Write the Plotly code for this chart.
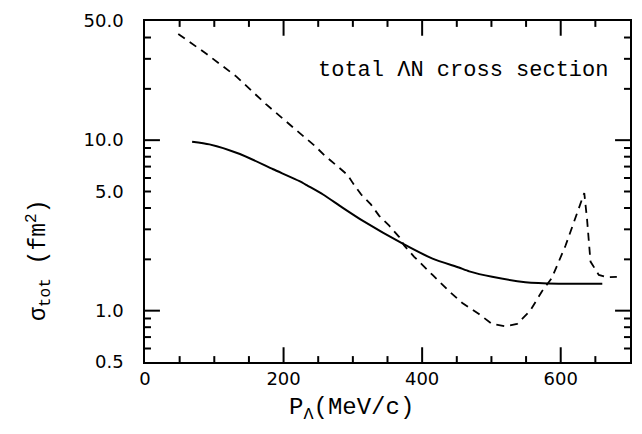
import plotly.graph_objects as go
import math

# Solid curve
solid_x = [68, 93, 137, 185, 223, 235, 257, 285, 314, 372, 415, 453, 468, 501, 549, 597, 630, 660]
solid_y = [9.8, 9.45, 8.3, 6.75, 5.75, 5.4, 4.8, 4.02, 3.37, 2.47, 2.02, 1.79, 1.70, 1.58, 1.47, 1.44, 1.44, 1.44]

# Dashed curve
dash_x = [48, 89, 132, 175, 228, 245, 259, 276, 292.5, 300, 312, 326, 338, 352.5, 367, 374, 388.5, 415, 439, 458,
          482, 501, 520, 537, 556, 573, 587, 607, 621, 634, 638, 643, 655, 667, 681]
dash_y = [42, 32, 23.6, 16.2, 10.6, 9.27, 8.15, 7.14, 6.25, 5.6, 4.8, 4.2, 3.6, 3.15, 2.7, 2.41, 2.07, 1.62, 1.30, 1.11,
          0.955, 0.836, 0.81, 0.836, 1.0, 1.30, 1.55, 2.41, 3.44, 4.9, 3.44, 1.94, 1.62, 1.57, 1.58]

x_range = [0, 700]
x_major = [0, 200, 400, 600]
x_minor = [50, 100, 150, 250, 300, 350, 450, 500, 550, 650]
y_min, y_max = 0.5, 50
y_label_vals = [0.5, 1, 5, 10, 50]
y_label_text = ["0.5", "1.0", "5.0", "10.0", "50.0"]
y_long_vals = [1, 10]
y_minor_vals = [0.6, 0.7, 0.8, 0.9, 2, 3, 4, 5, 6, 7, 8, 9, 20, 30, 40]

W, H = 642, 434
M = dict(l=145, r=10, t=15, b=72)
plot_w = W - M["l"] - M["r"]
plot_h = H - M["t"] - M["b"]
yr = [math.log10(y_min), math.log10(y_max)]

LONG, SHORT = 15, 6


def xlen(px):
    return px * (x_range[1] - x_range[0]) / plot_w


def yfac(px):
    return 10 ** (px * (yr[1] - yr[0]) / plot_h)


# Inward frame ticks on all four sides, built from the tick arrays
tx, ty = [], []
for vals, ln in ((x_major[1:], LONG), (x_minor, SHORT)):
    for v in vals:
        tx += [v, v, None, v, v, None]
        ty += [y_min, y_min * yfac(ln), None, y_max, y_max / yfac(ln), None]
for vals, ln in ((y_long_vals, LONG), (y_minor_vals, SHORT)):
    for v in vals:
        tx += [x_range[0], x_range[0] + xlen(ln), None, x_range[1], x_range[1] - xlen(ln), None]
        ty += [v, v, None, v, v, None]

fig = go.Figure()
fig.add_trace(go.Scatter(x=tx, y=ty, mode="lines", line=dict(color="black", width=2),
                         showlegend=False, hoverinfo="skip", connectgaps=False, cliponaxis=False))
fig.add_trace(go.Scatter(x=solid_x, y=solid_y, mode="lines",
                         line=dict(color="black", width=2, shape="spline", smoothing=0.6),
                         showlegend=False, hoverinfo="skip"))
fig.add_trace(go.Scatter(x=dash_x, y=dash_y, mode="lines",
                         line=dict(color="black", width=1.8, dash="8px,6px"),
                         showlegend=False, hoverinfo="skip"))

mono = "Liberation Mono"

fig.update_layout(
    width=W, height=H,
    margin=M,
    paper_bgcolor="white", plot_bgcolor="white",
    xaxis=dict(
        range=x_range, showgrid=False, zeroline=False,
        showline=True, linecolor="black", linewidth=1.5, mirror=True,
        ticks="",
        tickmode="array", tickvals=x_major, ticktext=[str(v) for v in x_major],
        tickfont=dict(family="DejaVu Sans", size=18, color="black"),
    ),
    yaxis=dict(
        type="log", range=yr, showgrid=False, zeroline=False,
        showline=True, linecolor="black", linewidth=1.5, mirror=True,
        ticks="",
        tickmode="array", tickvals=y_label_vals, ticktext=y_label_text,
        tickfont=dict(family="DejaVu Sans", size=18, color="black"),
        ticklabelstandoff=16,
    ),
    annotations=[
        dict(text="total ΛN cross section", xref="paper", yref="paper",
             x=0.958, y=0.856, xanchor="right", yanchor="middle", showarrow=False,
             font=dict(family=mono, size=22, color="black")),
        dict(text="σ<sub>tot</sub> (fm<sup>2</sup>)", xref="paper", yref="paper",
             x=-0.22, y=0.3, xanchor="center", yanchor="middle", textangle=-90, showarrow=False,
             font=dict(family=mono, size=23, color="black")),
        dict(text="P<sub>Λ</sub>(MeV/c)", xref="paper", yref="paper",
             x=0.425, y=-0.138, xanchor="center", yanchor="middle", showarrow=False,
             font=dict(family=mono, size=24, color="black")),
    ],
)

fig.write_html("out.html")
